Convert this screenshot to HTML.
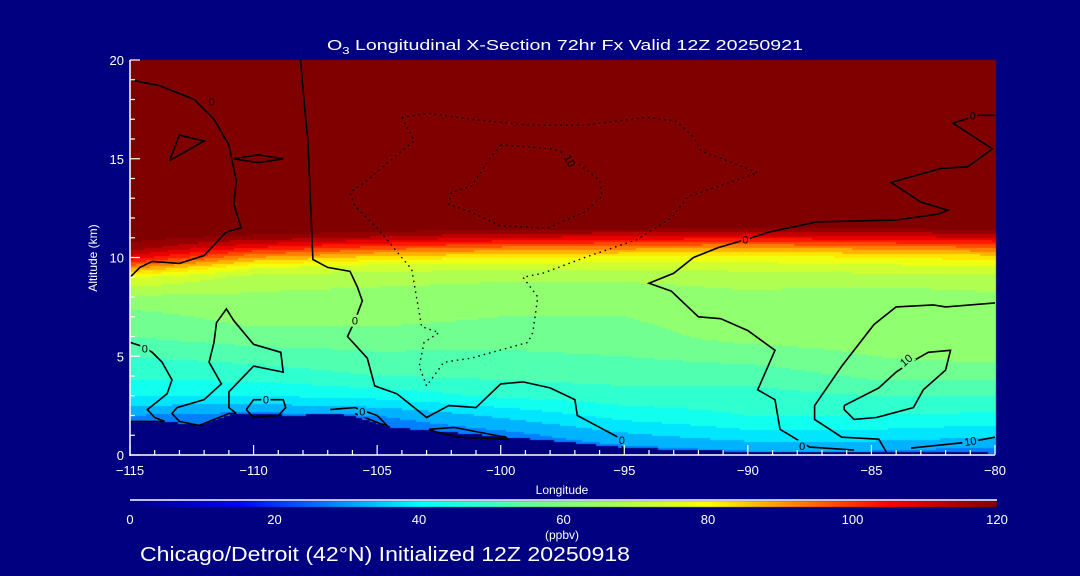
<!DOCTYPE html>
<html><head><meta charset="utf-8"><style>
html,body{margin:0;padding:0;background:#000080;}
#wrap{position:relative;width:1080px;height:576px;overflow:hidden;background:#000080;font-family:"Liberation Sans",sans-serif;color:#fff;}
canvas,svg{position:absolute;left:0;top:0;}
</style></head><body>
<div id="wrap">
<canvas id="cv" width="1080" height="576"></canvas>
<svg id="sv" width="1080" height="576"></svg>
</div>
<script>
const lons=[-115,-110,-105,-100,-95,-90,-85,-80];
const alts=[0,1,2,3,4,5,6,7,8,9,9.5,10,10.5,11,11.5,20];
const o3Rows=[
[22,22,22,24,26,28,28,26],
[24,24,24,28,34,38,38,36],
[30,28,30,36,42,45,45,44],
[40,40,42,46,48,48,50,50],
[46,47,50,51,52,52,56,56],
[50,52,54,54,55,57,60,62],
[55,58,58,57,58,62,62,62],
[58,62,62,60,60,63,61,62],
[64,64,63,62,62,64,62,64],
[76,68,67,66,66,67,68,68],
[92,76,72,72,71,72,73,74],
[108,90,83,80,79,78,80,82],
[118,105,98,94,92,90,92,95],
[122,118,114,110,108,106,108,110],
[125,125,124,122,122,120,121,122],
[125,125,125,125,125,125,125,125]];
const terrainLon=[-115,-113.6,-112.2,-110.8,-108.2,-106.9,-106.1,-104.4,-103.5,-98.2,-94.8,-89.6,-80];
const terrainAlt=[1.7,1.7,1.5,2.1,2.0,2.1,2.0,1.4,1.3,0.75,0.35,0.15,0.1];
const xTicks=[-115,-110,-105,-100,-95,-90,-85,-80];
const yTicks=[0,5,10,15,20];
const cbTicks=[0,20,40,60,80,100,120];
const contourSolid=[
[[-108.1,20],[-108.0,18.5],[-107.8,15.9],[-107.7,12.9],[-107.6,9.9],[-107.0,9.5],[-106.1,9.3],[-105.8,8.5],[-105.6,7.8],[-105.9,6.8],[-106.2,6.0],[-105.4,4.9],[-105.1,3.5],[-104.2,3.1],[-103.0,1.9],[-102.1,2.5],[-101.0,2.4],[-100.0,3.6],[-99.1,3.7],[-98.0,3.4],[-97.0,2.8],[-96.9,2.0],[-95.1,0.8],[-95.05,0]],
[[-80,17.2],[-80.7,17.2],[-81.7,16.8],[-80.1,15.5],[-81.1,14.6],[-82.2,14.5],[-84.2,13.8],[-83.0,12.8],[-81.9,12.4],[-82.3,12.2],[-84.0,11.9],[-87.2,11.8],[-89.1,11.3],[-90.1,10.9],[-91.2,10.5],[-92.2,10.0],[-93.0,9.2],[-94.0,8.7],[-93.1,8.3],[-92.0,7.0],[-91.1,6.9],[-90.0,6.3],[-88.9,5.3],[-89.6,3.3],[-88.9,2.8],[-88.7,1.3],[-87.5,0.4],[-85.7,0.25]],
[[-80,7.7],[-81.0,7.6],[-82.0,7.5],[-82.5,7.6],[-84.0,7.5],[-84.9,6.6],[-86.2,4.5],[-87.3,2.5],[-87.3,1.8],[-86.2,0.9],[-84.7,0.8],[-84.4,0.15]],
[[-86.1,2.5],[-84.7,3.4],[-84.0,4.2],[-83.4,4.7],[-82.7,5.2],[-81.8,5.3],[-82.0,4.3],[-82.9,3.3],[-83.3,2.4],[-84.8,1.9],[-85.7,1.8],[-86.1,2.3],[-86.1,2.5]],
[[-83.4,0.35],[-81.1,0.65],[-80,0.9]],
[[-115,9.0],[-114.6,9.5],[-114.1,9.8],[-113.0,9.7],[-112.0,10.1],[-111.1,11.3],[-110.5,11.5],[-110.8,12.7],[-110.7,13.9],[-111.0,15.7],[-111.6,17.0],[-112.4,18.0],[-113.8,18.7],[-115,19.0]],
[[-113.4,14.9],[-113.0,16.2],[-112.0,15.9],[-113.4,14.9]],
[[-110.8,15.0],[-109.8,15.2],[-108.8,15.0],[-109.8,14.8],[-110.8,15.0]],
[[-115,5.7],[-114.5,5.5],[-114.1,5.2],[-113.7,4.7],[-113.3,3.8],[-113.5,3.1],[-113.9,2.7],[-114.3,2.3],[-114.0,1.9],[-113.6,1.7],[-115,1.7]],
[[-110.7,2.1],[-111.0,2.1],[-112.2,1.5],[-113.0,1.7],[-113.3,2.1],[-113.1,2.4],[-112.0,2.8],[-111.3,3.6],[-111.8,4.7],[-111.6,5.7],[-111.5,6.7],[-111.1,7.4],[-110.8,6.8],[-110.0,5.6],[-108.9,5.2],[-108.8,4.2],[-109.2,4.3],[-110.0,4.5],[-111.0,3.2],[-111.0,2.4],[-110.7,2.1]],
[[-110.3,2.3],[-110.0,2.8],[-108.8,2.8],[-108.7,2.4],[-109.0,2.0],[-110.0,1.9],[-110.3,2.3]],
[[-106.9,2.3],[-105.9,2.4],[-105.0,2.0],[-104.6,1.5],[-104.9,1.6],[-105.9,2.1]],
[[-102.9,1.3],[-101.9,1.4],[-99.8,0.9],[-99.7,0.8],[-101.7,0.9],[-102.7,1.2],[-102.9,1.3]]
];
const contourDotted=[
[[-104.0,17.1],[-102.9,17.3],[-101.2,17.0],[-98.8,16.7],[-96.6,16.7],[-94.1,17.1],[-92.9,16.9],[-92.2,16.1],[-91.9,15.4],[-89.6,14.3],[-91.2,13.6],[-92.4,13.1],[-93.1,12.0],[-94.5,10.9],[-96.6,10.0],[-98.3,9.2],[-99.1,9.0],[-98.5,8.0],[-98.7,6.2],[-98.9,5.7],[-101.2,4.9],[-102.3,4.7],[-103.0,3.5],[-103.3,4.5],[-103.1,5.7],[-102.5,6.2],[-103.2,6.5],[-103.6,9.4],[-105.0,11.5],[-105.9,12.6],[-106.1,13.3],[-105.4,13.9],[-104.3,15.1],[-103.5,15.9],[-104.0,17.1]],
[[-100.0,15.7],[-98.9,15.6],[-97.9,15.5],[-97.5,15.3],[-96.7,14.6],[-96.0,13.9],[-95.9,13.1],[-96.6,12.3],[-98.1,11.5],[-100.0,11.6],[-101.2,12.3],[-102.1,12.7],[-102.0,13.3],[-101.2,13.6],[-100.8,14.3],[-100.4,15.1],[-100.0,15.7]]
];
const contourLabels=[["0",-111.7,17.9,0],["0",-114.4,5.4,0],["0",-105.9,6.8,0],["0",-109.5,2.8,0],["0",-90.1,10.9,0],["0",-95.1,0.75,0],["0",-87.8,0.45,0],["0",-80.9,17.2,0],["10",-97.2,14.9,60],["10",-83.6,4.8,-40],["10",-81.0,0.7,-10],["0",-105.6,2.2,0]];

const X0=130,X1=995,Y0=455,Y1=60;
const xs=l=>X0+(l+115)/35*(X1-X0);
const ys=a=>Y0-a/20*(Y0-Y1);
const stops=[[0,[0,0,130]],[15,[0,0,255]],[40,[0,255,255]],[60,[128,255,128]],[80,[255,255,0]],[105,[255,0,0]],[120,[128,0,0]]];
function cmap(v){v=Math.max(0,Math.min(120,v));for(let i=0;i<stops.length-1;i++){const[a,ca]=stops[i],[b,cb]=stops[i+1];if(v<=b){const t=(v-a)/(b-a);return ca.map((c,k)=>Math.round(c+(cb[k]-c)*t));}}return stops[stops.length-1][1];}
function interp1(xa,ya,x){if(x<=xa[0])return ya[0];for(let i=0;i<xa.length-1;i++){if(x<=xa[i+1]){const t=(x-xa[i])/(xa[i+1]-xa[i]);return ya[i]+(ya[i+1]-ya[i])*t;}}return ya[ya.length-1];}
function field(lon,alt){let j=0;while(j<lons.length-2&&lon>lons[j+1])j++;let i=0;while(i<alts.length-2&&alt>alts[i+1])i++;
const tx=Math.max(0,Math.min(1,(lon-lons[j])/(lons[j+1]-lons[j]))),ty=Math.max(0,Math.min(1,(alt-alts[i])/(alts[i+1]-alts[i])));
const a=o3Rows[i][j],b=o3Rows[i][j+1],c=o3Rows[i+1][j],d=o3Rows[i+1][j+1];return (a*(1-tx)+b*tx)*(1-ty)+(c*(1-tx)+d*tx)*ty;}
const ctx=document.getElementById('cv').getContext('2d');
ctx.fillStyle='#000080';ctx.fillRect(0,0,1080,576);
const step=2;
for(let px=X0;px<X1;px+=step){const lon=-115+(px+step/2-X0)/(X1-X0)*35;const ter=interp1(terrainLon,terrainAlt,lon);
for(let py=Y1;py<Y0;py+=step){const alt=(Y0-(py+step/2))/(Y0-Y1)*20;if(alt<ter)continue;let v=field(lon,alt);v=Math.floor(v/5)*5+2.5;const c=cmap(v);ctx.fillStyle=`rgb(${c[0]},${c[1]},${c[2]})`;ctx.fillRect(px,py,step,step);}}
for(let px=130;px<997;px++){const c=cmap((px-130)/(997-130)*120);ctx.fillStyle=`rgb(${c[0]},${c[1]},${c[2]})`;ctx.fillRect(px,501,1,6);}
const NS='http://www.w3.org/2000/svg';const sv=document.getElementById('sv');
function mk(t,attrs,parent){const e=document.createElementNS(NS,t);for(const k in attrs)e.setAttribute(k,attrs[k]);(parent||sv).appendChild(e);return e;}
const defs=mk('defs',{});
const mask=mk('mask',{id:'lblmask',maskUnits:'userSpaceOnUse',x:0,y:0,width:1080,height:576},defs);
mk('rect',{x:0,y:0,width:1080,height:576,fill:'#fff'},mask);
contourLabels.forEach(l=>{const w=l[0].length*7+2;mk('rect',{x:xs(l[1])-w/2,y:ys(l[2])-6,width:w,height:12,fill:'#000',transform:`rotate(${l[3]} ${xs(l[1])} ${ys(l[2])})`},mask);});
const gC=mk('g',{mask:'url(#lblmask)'});


contourSolid.forEach(ln=>{const p=mk('polyline',{points:ln.map(q=>xs(q[0]).toFixed(1)+','+ys(q[1]).toFixed(1)).join(' '),fill:'none',stroke:'#000','stroke-width':1.6},gC);

});
contourDotted.forEach(ln=>{const p=mk('polyline',{points:ln.map(q=>xs(q[0]).toFixed(1)+','+ys(q[1]).toFixed(1)).join(' '),fill:'none',stroke:'#000','stroke-width':1.4,'stroke-dasharray':'1.5 4'},gC);

});
const gL=mk('g',{});


contourLabels.forEach(l=>{const t=mk('text',{x:xs(l[1]),y:ys(l[2])+4,'font-size':11,fill:'#000','text-anchor':'middle',transform:`rotate(${l[3]} ${xs(l[1])} ${ys(l[2])})`},gL);t.textContent=l[0];

});
const ax=mk('g',{stroke:'#fff','stroke-width':1.5});


mk('line',{x1:X0,y1:Y1,x2:X0,y2:Y0+1},ax);mk('line',{x1:X0,y1:Y0,x2:X1,y2:Y0},ax);
for(let l=-115;l<=-80;l++){const major=(l%5===0);mk('line',{x1:xs(l),y1:Y0,x2:xs(l),y2:Y0-(major?10:5),'stroke-width':1.2},ax);}
for(let a=0;a<=20;a++){const major=(a%5===0);mk('line',{x1:X0,y1:ys(a),x2:X0+(major?10:5),y2:ys(a),'stroke-width':1.2},ax);}
xTicks.forEach(l=>{const t=mk('text',{x:xs(l),y:475,'font-size':13,fill:'#fff','text-anchor':'middle'});t.textContent=(l<0?'\u2212':'')+Math.abs(l);

});
yTicks.forEach(a=>{const t=mk('text',{x:124,y:ys(a)+5,'font-size':13,fill:'#fff','text-anchor':'end'});t.textContent=a;

});
let t=mk('text',{x:562,y:494,'font-size':12,fill:'#fff','text-anchor':'middle'});t.textContent='Longitude';


t=mk('text',{x:97,y:258,'font-size':12,fill:'#fff','text-anchor':'middle',transform:'rotate(-90 97 258)'});t.textContent='Altitude (km)';


t=mk('text',{x:565,y:50,'font-size':15,fill:'#fff','text-anchor':'middle',textLength:476,lengthAdjust:'spacingAndGlyphs'});t.innerHTML='O<tspan font-size="10" dy="4">3</tspan><tspan dy="-4"> Longitudinal X-Section 72hr  Fx Valid 12Z 20250921</tspan>';


const cbl=mk('line',{x1:130,y1:500,x2:997,y2:500,stroke:'#fff','stroke-width':1.5});


cbTicks.forEach(v=>{const tt=mk('text',{x:130+v/120*867,y:524,'font-size':13,fill:'#fff','text-anchor':'middle'});tt.textContent=v;

});
t=mk('text',{x:562,y:539,'font-size':12,fill:'#fff','text-anchor':'middle'});t.textContent='(ppbv)';


t=mk('text',{x:140,y:561,'font-size':20,fill:'#fff',textLength:490,lengthAdjust:'spacingAndGlyphs'});t.textContent='Chicago/Detroit (42\u00B0N) Initialized 12Z 20250918';


</script>
</body></html>
